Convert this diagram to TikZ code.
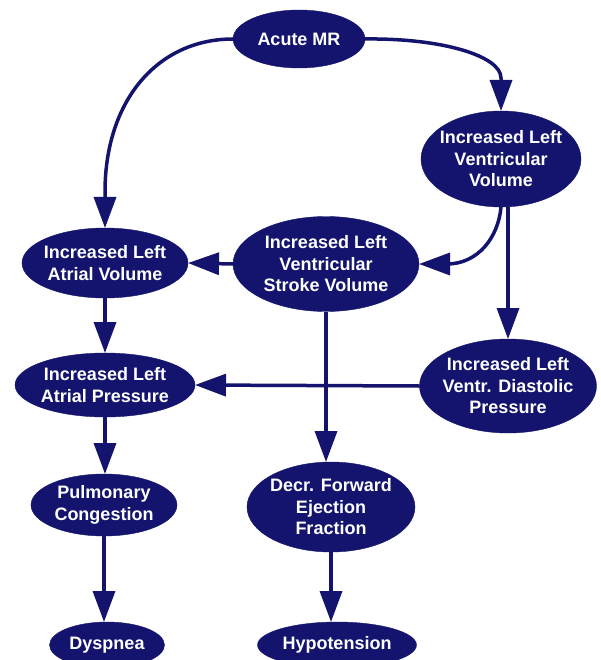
\documentclass[tikz,border=0pt]{standalone}
\usepackage{fontspec}
\setmainfont{Liberation Sans}
\usetikzlibrary{arrows.meta,shapes.geometric}
\definecolor{navy}{RGB}{20,20,110}
\begin{document}
\begin{tikzpicture}[x=1pt,y=-1pt,
  ell/.style={ellipse, fill=navy, draw=navy, text=white,
    font=\bfseries\fontsize{18}{21.5}\selectfont, align=center,
    inner sep=-30pt, outer sep=0pt},
  arr/.style={draw=navy, line width=3.5pt, -{Triangle[length=31pt,width=22pt]}}]
\useasboundingbox (0,0) rectangle (601,660);
\clip (0,0) rectangle (601,660);
\fill[white] (0,0) rectangle (601,660);

\node[ell, minimum width=132pt, minimum height=58pt] (amr) at (299,39) {Acute MR};
\node[ell, minimum width=160pt, minimum height=96pt] (ilvv) at (501,159) {Increased Left\\Ventricular\\Volume};
\node[ell, minimum width=166pt, minimum height=70pt] (ilav) at (105,263) {Increased Left\\Atrial Volume};
\node[ell, minimum width=186pt, minimum height=95pt] (ilvsv) at (326,264) {Increased Left\\Ventricular\\Stroke Volume};
\node[ell, minimum width=180pt, minimum height=64pt] (ilap) at (105,385) {Increased Left\\Atrial Pressure};
\node[ell, minimum width=177pt, minimum height=94pt] (ilvdp) at (508,386) {Increased Left\\Ventr. Diastolic\\Pressure};
\node[ell, minimum width=146pt, minimum height=62pt] (pulm) at (104,505) {Pulmonary\\Congestion};
\node[ell, minimum width=168pt, minimum height=90pt] (decr) at (331,507) {Decr. Forward\\Ejection\\Fraction};
\node[ell, minimum width=115pt, minimum height=46pt] (dysp) at (107,645) {Dyspnea};
\node[ell, minimum width=159pt, minimum height=46pt] (hypo) at (337,645) {Hypotension};

\coordinate (c1) at (105,192);
\coordinate (c2) at (501,78);
\coordinate (c3) at (447,264);

\draw[arr] (amr.west) .. controls (158,39) and (105,100) .. (c1) -- (ilav.north);
\draw[arr] (amr.east) .. controls (442,38) and (501,56) .. (c2) -- (ilvv.north);
\draw[arr] (ilvv.south) to[out=-95,in=0] (c3) -- (ilvsv.east);
\draw[arr] (ilvv.south -| ilvdp.north) -- (ilvdp.north);
\draw[arr] (ilvsv.west) -- (ilav.east);
\draw[arr] (ilav.south) -- (ilap.north);
\draw[arr] (ilvdp.west) -- (ilap.east);
\draw[arr] (ilvsv.south) -- (ilvsv.south |- decr.north);
\draw[arr] (ilap.south) -- (ilap.south |- pulm.north);
\draw[arr] (pulm.south) -- (pulm.south |- dysp.north);
\draw[arr] (decr.south) -- (decr.south |- hypo.north);
\end{tikzpicture}
\end{document}
